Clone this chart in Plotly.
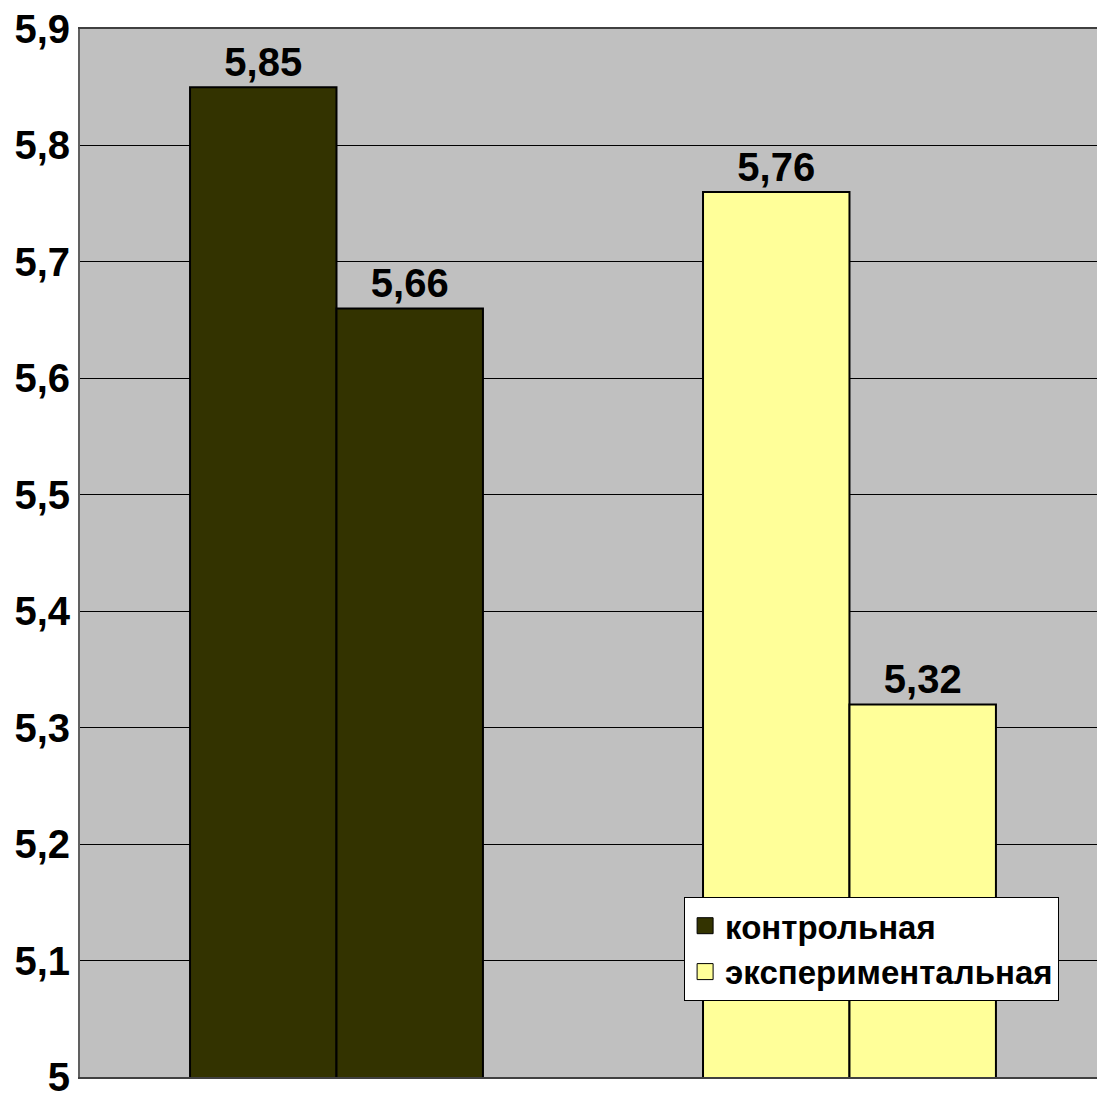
import plotly.graph_objects as go

groups = ["контрольная", "экспериментальная"]
first_values = [5.85, 5.76]
second_values = [5.66, 5.32]
colors = {"контрольная": "#333300", "экспериментальная": "#FFFF99"}
y_ticks = [5.0, 5.1, 5.2, 5.3, 5.4, 5.5, 5.6, 5.7, 5.8, 5.9]

FONT = "Liberation Sans, Arial, sans-serif"

fig = go.Figure()
for i, g in enumerate(groups):
    for og, vals in (("a", first_values), ("b", second_values)):
        fig.add_trace(go.Bar(
            x=[g], y=[vals[i]], name=g, legendgroup=g,
            showlegend=False, offsetgroup=og,
            marker=dict(color=colors[g], line=dict(color="black", width=2)),
            texttemplate="%{y:.2f}", textposition="outside",
            textfont=dict(family=FONT, size=40, color="black", weight="bold"),
            constraintext="none", cliponaxis=False,
        ))

# legend entries (larger square swatches)
for g in groups:
    fig.add_trace(go.Scatter(
        x=[None], y=[None], mode="markers", name=g, legendgroup=g,
        marker=dict(symbol="square", size=20, color=colors[g],
                    line=dict(color="black", width=1)),
        showlegend=True,
    ))

fig.update_layout(
    width=1097, height=1093,
    margin=dict(l=80, r=0, t=29, b=16, autoexpand=False),
    paper_bgcolor="white", plot_bgcolor="#C0C0C0",
    barmode="group", bargap=0.429, bargroupgap=0,
    separators=", ",
    showlegend=True,
    legend=dict(
        x=0.594, y=0.172, xanchor="left", yanchor="top",
        bgcolor="white", bordercolor="black", borderwidth=1,
        font=dict(family=FONT, size=33, color="black", weight="bold"),
        traceorder="normal", tracegroupgap=0, itemwidth=30,
    ),
)
fig.update_xaxes(
    type="category", range=[-0.5, 1.4825], showticklabels=False,
    showgrid=False, showline=True, mirror=True, linecolor="#404040", linewidth=2,
    ticks="", zeroline=False, automargin=False,
)
fig.update_yaxes(
    range=[5, 5.9], tickvals=y_ticks, showgrid=True, gridcolor="black", gridwidth=1,
    showline=True, mirror=False, linecolor="#606060", linewidth=2, ticks="",
    zeroline=False, ticklabeloverflow="allow", automargin=False,
    tickfont=dict(family=FONT, size=40, color="black", weight="bold"),
)

fig.write_html("out.html")
